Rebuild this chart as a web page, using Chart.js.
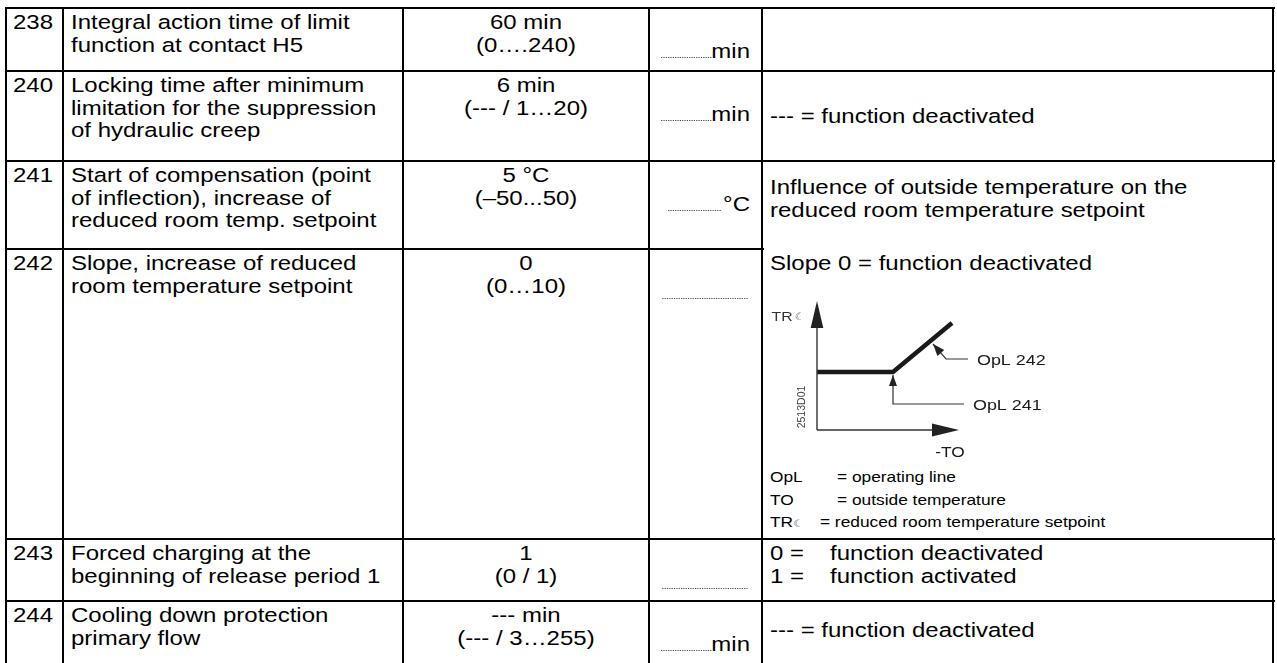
<!DOCTYPE html>
<html>
<head>
<meta charset="utf-8">
<title>Operating lines 238–244</title>
<script src="https://cdn.jsdelivr.net/npm/chart.js@4.4.0/dist/chart.umd.min.js"></script>
<style>
  html, body { margin: 0; padding: 0; background: #fff; }
  body {
    width: 1277px; height: 663px; overflow: hidden; position: relative;
    font-family: "Liberation Sans", Arial, Helvetica, sans-serif;
    font-size: 20.5px; line-height: 22.5px; color: #000;
  }
  .rule { position: absolute; background: #000; }
  .cell { position: absolute; box-sizing: border-box; padding-top: 2px; white-space: nowrap; }
  .t { transform: scaleX(1.17); transform-origin: left top; }
  .num { padding-left: 6px; }
  .desc { padding-left: 7px; }
  .value .t { text-align: center; transform-origin: center top; }
  .input { padding-right: 11px; padding-top: 8px; }
  .input .t { text-align: right; transform-origin: right top; }
  .remark { padding-left: 7px; }
  .dots { display: inline-block; height: 1px; border-bottom: 1px dotted #444; vertical-align: baseline; }
  .key { display: inline-block; }
  .moon { font-family: "DejaVu Sans", sans-serif; font-size: 0.7em; color: #444; }
  #sketch { position: absolute; left: 4px; top: 40px; }
  .legend { position: absolute; left: 7px; top: 216px; font-size: 14.8px; line-height: 22.5px; }
</style>
</head>
<body>
<div id="page"></div>
<script>
// table content
var paramIds = ['238', '240', '241', '242', '243', '244'];
var descriptions = [
  ['Integral action time of limit', 'function at contact H5'],
  ['Locking time after minimum', 'limitation for the suppression', 'of hydraulic creep'],
  ['Start of compensation (point', 'of inflection), increase of', 'reduced room temp. setpoint'],
  ['Slope, increase of reduced', 'room temperature setpoint'],
  ['Forced charging at the', 'beginning of release period 1'],
  ['Cooling down protection', 'primary flow']
];
var defaultValues = ['60 min', '6 min', '5 °C', '0', '1', '--- min'];
var valueRanges = ['(0….240)', '(--- / 1…20)', '(–50...50)', '(0…10)', '(0 / 1)', '(--- / 3…255)'];
var units = ['min', 'min', '°C', '', '', 'min'];
var influenceText = ['Influence of outside temperature on the', 'reduced room temperature setpoint'];
var slopeText = 'Slope 0 = function deactivated';
var deactivatedText = '--- = function deactivated';
var switchKeys = ['0 =', '1 ='];
var switchTexts = ['function deactivated', 'function activated'];
var legendKeys = ['OpL', 'TO', 'TR☾'];
var legendTexts = ['= operating line', '= outside temperature', '= reduced room temperature setpoint'];

// sketch of the operating line (sketch units, origin at the axes corner)
var opLineX = [0, 7.6, 13.5];
var opLineY = [5.8, 5.8, 10.7];
var axisEndX = 14.2;
var axisEndY = 12.9;
var pointer241X = [7.6, 7.6, 14.7];
var pointer241Y = [5.5, 2.6, 2.6];
var pointer242X = [11.6, 12.9, 15.1];
var pointer242Y = [8.6, 7.1, 7.1];
var sketchLabels = ['OpL 242', 'OpL 241', '-TO', 'TR☾', '2513D01'];

var stretch = 1.17;
var colX = [6, 63, 403, 649, 762, 1273];
var rowY = [8, 71, 161, 249, 539, 601, 664];
var page = document.getElementById('page');

function addRule(left, top, width, height) {
  var d = document.createElement('div');
  d.className = 'rule';
  d.style.cssText = 'left:' + left + 'px;top:' + top + 'px;width:' + width + 'px;height:' + height + 'px';
  page.appendChild(d);
}

function addCell(row, col, cls, html) {
  var d = document.createElement('div');
  d.className = 'cell ' + cls;
  d.style.left = (colX[col] + 1) + 'px';
  d.style.top = (rowY[row] + 1) + 'px';
  d.style.width = (colX[col + 1] - colX[col] - 2) + 'px';
  d.style.height = (rowY[row + 1] - rowY[row] - 2) + 'px';
  d.innerHTML = html;
  page.appendChild(d);
  return d;
}

function txt(html, extra) {
  return '<div class="t"' + (extra ? ' style="' + extra + '"' : '') + '>' + html + '</div>';
}

function withMoon(s) {
  return s.replace('☾', '<span class="moon">☾</span>');
}

function px(w) {
  return (w / stretch).toFixed(1) + 'px';
}

// grid
for (var i = 0; i < colX.length; i++) addRule(colX[i] - 1, rowY[0] - 1, 2, 680);
for (var j = 0; j < rowY.length; j++) {
  var right = (j == 3) ? colX[4] + 1 : colX[5] + 1;
  addRule(colX[0] - 1, rowY[j] - 1, right - colX[0] + 2, 2);
}

for (var r = 0; r < paramIds.length; r++) {
  addCell(r, 0, 'num', txt(paramIds[r]));
  addCell(r, 1, 'desc', txt(descriptions[r].join('<br>')));
  addCell(r, 2, 'value', txt(defaultValues[r] + '<br>' + valueRanges[r]));
  var dots;
  if (units[r] == '°C') dots = '<span class="dots" style="width:' + px(53) + ';margin-right:' + px(2) + '"></span>';
  else if (units[r] == '') dots = '<span class="dots" style="width:' + px(86) + ';margin-right:' + px(2) + '"></span>';
  else dots = '<span class="dots" style="width:' + px(50) + '"></span>';
  addCell(r, 3, 'input', txt('<br>' + dots + units[r]));
}

addCell(1, 4, 'remark', txt(deactivatedText, 'padding-top:31px'));
addCell(2, 4, 'remark', txt(influenceText.join('<br>'), 'padding-top:12px'));
var legendHtml = '';
for (var k = 0; k < legendKeys.length; k++) {
  legendHtml += '<div><span class="key" style="width:' + px(k < 2 ? 67 : 50) + '">' +
    withMoon(legendKeys[k]) + '</span>' + legendTexts[k] + '</div>';
}
addCell(3, 4, 'remark', txt(slopeText) +
  '<canvas id="sketch" width="340" height="170"></canvas>' +
  '<div class="legend t">' + legendHtml + '</div>');
var switchHtml = '';
for (var s = 0; s < switchKeys.length; s++) {
  switchHtml += '<div><span class="key" style="width:' + px(60) + '">' + switchKeys[s] + '</span>' + switchTexts[s] + '</div>';
}
addCell(4, 4, 'remark', txt(switchHtml));
addCell(5, 4, 'remark', txt(deactivatedText, 'padding-top:15px'));

// sketch
function points(xs, ys) {
  var out = [];
  for (var i = 0; i < xs.length; i++) out.push({ x: xs[i], y: ys[i] });
  return out;
}

function arrowHead(ctx, chart, tipX, tipY, fromX, fromY, len, half) {
  var sx = chart.scales.x, sy = chart.scales.y;
  var tx = sx.getPixelForValue(tipX), ty = sy.getPixelForValue(tipY);
  var fx = sx.getPixelForValue(fromX), fy = sy.getPixelForValue(fromY);
  var d = Math.hypot(tx - fx, ty - fy);
  var ux = (tx - fx) / d, uy = (ty - fy) / d;
  var bx = tx - ux * len, by = ty - uy * len;
  ctx.beginPath();
  ctx.moveTo(tx, ty);
  ctx.lineTo(bx - uy * half, by + ux * half);
  ctx.lineTo(bx + uy * half, by - ux * half);
  ctx.closePath();
  ctx.fill();
}

// text is wider than tall in the reference, same as in the table
function wideText(ctx, s, x, y, align) {
  ctx.save();
  ctx.translate(x, y);
  ctx.scale(stretch, 1);
  ctx.textAlign = align;
  ctx.fillText(s, 0, 0);
  ctx.restore();
}

var sketchDecor = {
  id: 'sketchDecor',
  afterDatasetsDraw: function(chart) {
    var ctx = chart.ctx, sx = chart.scales.x, sy = chart.scales.y;
    var ox = sx.getPixelForValue(0), oy = sy.getPixelForValue(0);
    ctx.save();
    ctx.fillStyle = '#222';
    arrowHead(ctx, chart, 0, axisEndY, 0, 0, 27, 6.3);
    arrowHead(ctx, chart, axisEndX, 0, 0, 0, 27, 6.5);
    arrowHead(ctx, chart, pointer241X[0], pointer241Y[0], pointer241X[1], pointer241Y[1], 11, 4);
    arrowHead(ctx, chart, pointer242X[0], pointer242Y[0], pointer242X[1], pointer242Y[1], 12, 4.5);

    ctx.fillStyle = '#1a1a1a';
    ctx.textBaseline = 'alphabetic';
    ctx.font = '15.3px "Liberation Sans", Arial, sans-serif';
    wideText(ctx, sketchLabels[0], sx.getPixelForValue(pointer242X[2]) + 9, sy.getPixelForValue(pointer242Y[2]) + 5.5, 'left');
    wideText(ctx, sketchLabels[1], sx.getPixelForValue(pointer241X[2]) + 9, sy.getPixelForValue(pointer241Y[2]) + 6, 'left');
    ctx.font = '14.8px "Liberation Sans", Arial, sans-serif';
    wideText(ctx, sketchLabels[2], sx.getPixelForValue(axisEndX) - 9, oy + 26.5, 'center');

    var trY = sy.getPixelForValue(axisEndY) + 20;
    ctx.fillStyle = '#333';
    ctx.font = '13.5px "Liberation Sans", Arial, sans-serif';
    var tr = sketchLabels[3].replace('☾', '');
    wideText(ctx, tr, ox - 45.5, trY, 'left');
    var trW = ctx.measureText(tr).width * stretch;
    ctx.font = '10px "DejaVu Sans", sans-serif';
    ctx.fillStyle = '#555';
    wideText(ctx, '☾', ox - 45.5 + trW + 2, trY - 1, 'left');

    ctx.translate(ox - 14.5, oy - 23);
    ctx.rotate(-Math.PI / 2);
    ctx.font = '10.5px "Liberation Sans", Arial, sans-serif';
    ctx.fillStyle = '#444';
    ctx.textAlign = 'center';
    ctx.textBaseline = 'middle';
    ctx.fillText(sketchLabels[4], 0, 0);
    ctx.restore();
  }
};

function lineSet(data, width, color) {
  return { data: data, showLine: true, borderWidth: width, borderColor: color,
    pointRadius: 0, borderCapStyle: 'butt', borderJoinStyle: 'miter', clip: false };
}

var config = {
  type: 'scatter',
  data: {
    datasets: [
      lineSet(points([0, 0], [0, axisEndY - 1]), 1.4, '#333'),
      lineSet(points([0, axisEndX - 1], [0, 0]), 1.4, '#333'),
      lineSet(points(pointer241X, pointer241Y), 1.2, '#333'),
      lineSet(points(pointer242X, pointer242Y), 1.2, '#333'),
      lineSet(points(opLineX, opLineY), 4.5, '#1a1a1a')
    ]
  },
  options: {
    responsive: false,
    animation: false,
    devicePixelRatio: 1,
    layout: { padding: 0 },
    scales: {
      x: { type: 'linear', min: -5, max: 29, display: false },
      y: { type: 'linear', min: -3, max: 14, display: false }
    },
    plugins: { legend: { display: false }, tooltip: { enabled: false } },
    events: []
  },
  plugins: [sketchDecor]
};

var sketchChart = new Chart(document.getElementById('sketch').getContext('2d'), config);
</script>
</body>
</html>
